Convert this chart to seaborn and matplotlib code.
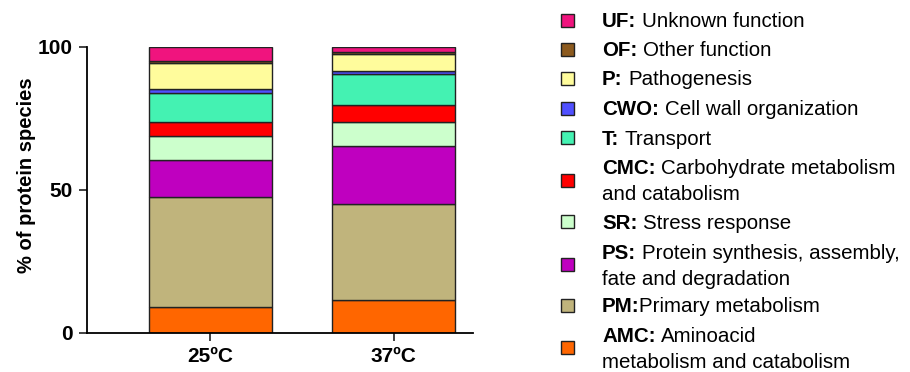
import numpy as np
import pandas as pd
import matplotlib
matplotlib.use("Agg")
import matplotlib.pyplot as plt
from matplotlib.patches import Rectangle
from matplotlib.font_manager import findfont, FontProperties
from matplotlib.ft2font import FT2Font, Kerning
import seaborn as sns

# Temperatures compared
conditions = ["25ºC", "37ºC"]

# Functional categories, bottom to top of each stack
codes = ["AMC", "PM", "PS", "SR", "CMC", "T", "CWO", "P", "OF", "UF"]
descriptions = [
    "Aminoacid\nmetabolism and catabolism",
    "Primary metabolism",
    "Protein synthesis, assembly,\nfate and degradation",
    "Stress response",
    "Carbohydrate metabolism\nand catabolism",
    "Transport",
    "Cell wall organization",
    "Pathogenesis",
    "Other function",
    "Unknown function",
]

# Percentage of protein species per category
pct_25 = [9.0, 38.4, 12.9, 8.6, 4.9, 10.2, 1.4, 9.1, 0.7, 4.8]
pct_37 = [11.5, 33.4, 20.6, 8.1, 6.2, 10.8, 1.0, 5.8, 0.7, 1.9]

colors = ["#FF6600", "#C0B47C", "#BF00BF", "#CCFFCC", "#FF0000",
          "#44F2B2", "#5050FF", "#FFFC9C", "#8C5A1E", "#F0147E"]

sns.set_theme(style="ticks")
plt.rcParams["font.family"] = ["Liberation Sans", "DejaVu Sans"]
for key in ["text.color", "axes.labelcolor", "xtick.color", "ytick.color"]:
    plt.rcParams[key] = "black"

W, H = 910, 372
FS = 15
LFS = 14.8
fig = plt.figure(figsize=(W / 100, H / 100), dpi=100)
ax = fig.add_axes([0.0956, 0.105, 0.424, 0.769])

df = pd.DataFrame({"condition": conditions})
bottom = np.zeros(len(conditions))
for i, code in enumerate(codes):
    vals = np.array([pct_25[i], pct_37[i]])
    df["value"] = vals
    sns.barplot(data=df, x="condition", y="value", bottom=bottom,
                color=colors[i], saturation=1, width=0.67,
                edgecolor="#222222", linewidth=1.0, ax=ax)
    bottom = bottom + vals

ax.set_xlim(-0.67, 1.43)
ax.set_ylim(0, 100)
ax.set_yticks([0, 50, 100])
ax.set_xlabel("")
ax.set_ylabel("% of protein species", fontsize=14.5, fontweight="bold")
ax.yaxis.set_label_coords(-0.132, 0.553)
for side in ["top", "right"]:
    ax.spines[side].set_visible(False)
for side in ["left", "bottom"]:
    ax.spines[side].set_color("black")
    ax.spines[side].set_linewidth(1.3)
ax.tick_params(axis="both", length=6, width=1.3, color="#333333",
               labelsize=FS, pad=4)
for lab in ax.get_xticklabels() + ax.get_yticklabels():
    lab.set_fontweight("bold")


# Legend drawn row by row: coloured square, bold code, plain description
def advance(s, weight):
    """Pen advance of a string in pixels, kerning included."""
    font = FT2Font(findfont(FontProperties(family="Liberation Sans", weight=weight)))
    font.set_size(LFS, 100)
    total = 0.0
    prev = None
    for c in s:
        idx = font.get_char_index(ord(c))
        if prev is not None:
            total += font.get_kerning(prev, idx, Kerning.DEFAULT) / 64
        total += font.load_char(ord(c)).linearHoriAdvance / 65536
        prev = idx
    return total


row_centers = {"UF": 20, "OF": 49, "P": 78, "CWO": 108, "T": 137.5,
               "CMC": 180, "SR": 221.5, "PS": 264.5, "PM": 305, "AMC": 347.5}
line_gap = 26
sq = 13
text_x = 602
cap_half = LFS * 100 / 72 * 0.716 / 2
space_w = advance(" ", "normal")

for i in reversed(range(len(codes))):
    code = codes[i]
    cy = row_centers[code]
    fig.add_artist(Rectangle((561 / W, 1 - (cy + sq / 2) / H), sq / W, sq / H,
                             transform=fig.transFigure, facecolor=colors[i],
                             edgecolor="#222222", linewidth=1.0))
    lines = descriptions[i].split("\n")
    n = len(lines)
    first_cy = cy - (n - 1) * line_gap / 2
    base = 1 - (first_cy + cap_half) / H
    fig.text(text_x / W, base, code + ":", fontsize=LFS, fontweight="bold",
             va="baseline", ha="left")
    bold_w = advance(code + ":", "bold")
    sep = -0.5 if code == "PM" else space_w
    fig.text((text_x + bold_w + sep) / W, base, lines[0], fontsize=LFS,
             va="baseline", ha="left")
    for k in range(1, n):
        fig.text(text_x / W, 1 - (first_cy + k * line_gap + cap_half) / H,
                 lines[k], fontsize=LFS, va="baseline", ha="left")

fig.savefig("out.png", dpi=100)
